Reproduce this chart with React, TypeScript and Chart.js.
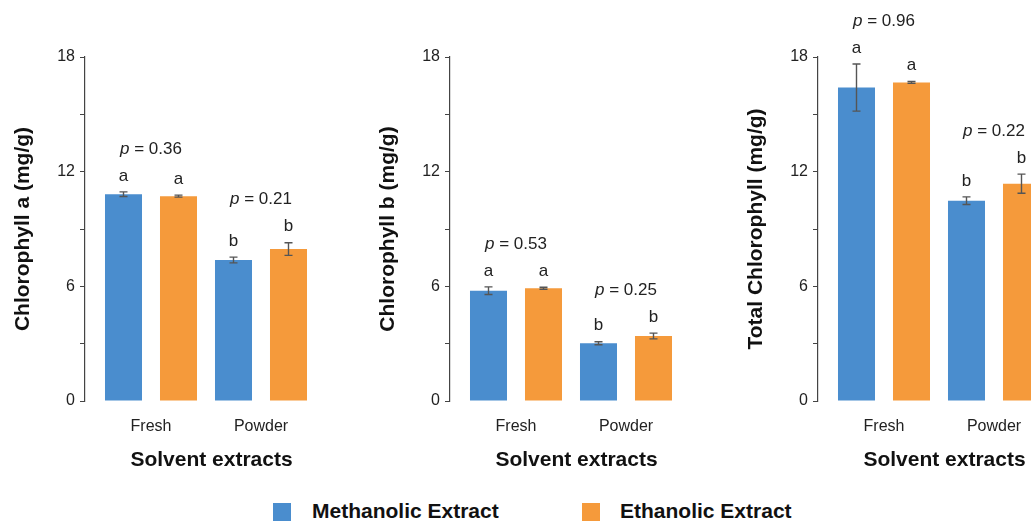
import { useEffect, useRef } from "react";
import { Chart, registerables } from "chart.js";

Chart.register(...registerables);

const FONT = "'Liberation Sans', Arial, sans-serif";

const categories = ["Fresh", "Powder"];
const seriesNames = ["Methanolic Extract", "Ethanolic Extract"];
const seriesColors = ["#4a8dce", "#f59a3b"];
const groupLetters = ["a", "b"];

// chlorophyll a
const chlAMethanolic = [10.82, 7.38];
const chlAEthanolic = [10.72, 7.95];
const chlAMethanolicErr = [0.12, 0.15];
const chlAEthanolicErr = [0.05, 0.33];
const chlAPValues = ["0.36", "0.21"];

// chlorophyll b
const chlBMethanolic = [5.77, 3.02];
const chlBEthanolic = [5.9, 3.4];
const chlBMethanolicErr = [0.2, 0.08];
const chlBEthanolicErr = [0.05, 0.15];
const chlBPValues = ["0.53", "0.25"];

// total chlorophyll
const totalMethanolic = [16.4, 10.48];
const totalEthanolic = [16.67, 11.37];
const totalMethanolicErr = [1.23, 0.2];
const totalEthanolicErr = [0.05, 0.5];
const totalPValues = ["0.96", "0.22"];

const makeAnnotations = (errors: number[][], pValues: string[]) => ({
  id: "annotations",
  afterDatasetsDraw(chart: any) {
    const { ctx } = chart;
    const y = chart.scales.y;
    ctx.save();
    const groupTops: number[] = categories.map(() => Infinity);
    const groupX: number[][] = categories.map(() => []);
    chart.data.datasets.forEach((ds: any, i: number) => {
      const meta = chart.getDatasetMeta(i);
      meta.data.forEach((bar: any, j: number) => {
        const v = ds.data[j].y;
        const e = errors[i][j];
        const top = y.getPixelForValue(v + e);
        const bot = y.getPixelForValue(v - e);
        ctx.strokeStyle = "#555";
        ctx.lineWidth = 1.4;
        ctx.beginPath();
        ctx.moveTo(bar.x, top);
        ctx.lineTo(bar.x, bot);
        ctx.moveTo(bar.x - 4, top);
        ctx.lineTo(bar.x + 4, top);
        ctx.moveTo(bar.x - 4, bot);
        ctx.lineTo(bar.x + 4, bot);
        ctx.stroke();
        ctx.fillStyle = "#222";
        ctx.font = `17px ${FONT}`;
        ctx.textAlign = "center";
        ctx.textBaseline = "middle";
        ctx.fillText(groupLetters[j], bar.x, top - 16);
        groupTops[j] = Math.min(groupTops[j], top);
        groupX[j].push(bar.x);
      });
    });
    categories.forEach((_c, j) => {
      const cx = groupX[j].reduce((a, b) => a + b, 0) / groupX[j].length;
      const cy = groupTops[j] - 43;
      const rest = " = " + pValues[j];
      ctx.font = `italic 17px ${FONT}`;
      const wp = ctx.measureText("p").width;
      ctx.font = `17px ${FONT}`;
      const wr = ctx.measureText(rest).width;
      const x0 = cx - (wp + wr) / 2;
      ctx.textAlign = "left";
      ctx.textBaseline = "middle";
      ctx.fillStyle = "#222";
      ctx.font = `italic 17px ${FONT}`;
      ctx.fillText("p", x0, cy);
      ctx.font = `17px ${FONT}`;
      ctx.fillText(rest, x0 + wp, cy);
    });
    ctx.restore();
  },
});

const Panel = ({
  left,
  yTitle,
  series,
  errors,
  pValues,
}: {
  left: number;
  yTitle: string;
  series: number[][];
  errors: number[][];
  pValues: string[];
}) => {
  const rootRef = useRef<null | HTMLCanvasElement>(null);

  useEffect(() => {
    if (!rootRef.current) return;

    const data = {
      datasets: series.map((values, i) => ({
        label: seriesNames[i],
        data: values.map((v, j) => ({ x: j, y: v })),
        backgroundColor: seriesColors[i],
        barPercentage: 0.673,
        categoryPercentage: 1,
      })),
    };

    const c = new Chart(rootRef.current, {
      type: "bar",
      data,
      options: {
        animation: false,
        responsive: false,
        layout: { padding: { top: 57, right: 22, bottom: 0, left: 0 } },
        plugins: { legend: { display: false }, tooltip: { enabled: false } },
        scales: {
          x: {
            type: "linear",
            min: -0.6,
            max: 1.7,
            offset: false,
            grid: { display: false, drawTicks: false },
            border: { display: false },
            afterBuildTicks: (scale: any) => {
              scale.ticks = categories.map((_c, i) => ({ value: i }));
            },
            afterFit: (scale: any) => {
              scale.height = 80;
            },
            ticks: {
              padding: 16,
              color: "#222",
              font: { size: 16, family: FONT },
              callback: (v: any) => categories[v],
            },
            title: {
              display: true,
              text: "Solvent extracts",
              color: "#111",
              font: { size: 21, weight: "bold", family: FONT, lineHeight: 1.2 },
              padding: { top: 0, bottom: 8 },
            },
          },
          y: {
            min: 0,
            max: 18,
            afterFit: (scale: any) => {
              scale.width = 85;
            },
            grid: {
              display: true,
              drawOnChartArea: false,
              drawTicks: true,
              tickLength: 5,
              color: "#444",
            },
            border: { display: true, color: "#444", width: 1.2 },
            ticks: {
              stepSize: 3,
              padding: 5,
              color: "#222",
              font: { size: 16, family: FONT },
              callback: (v: any) => (v % 6 === 0 ? String(v) : ""),
            },
            title: {
              display: true,
              text: yTitle,
              color: "#111",
              font: { size: 21, weight: "bold", family: FONT, lineHeight: 1.2 },
              padding: { top: 11, bottom: 0 },
            },
          },
        },
      } as any,
      plugins: [makeAnnotations(errors, pValues)],
    });

    return () => c.destroy();
  }, []);

  return (
    <canvas
      ref={rootRef}
      width={360}
      height={481}
      style={{ position: "absolute", left, top: 0, width: 360, height: 481 }}
    ></canvas>
  );
};

const legendItems = [
  { box: 273, text: 312 },
  { box: 582, text: 620 },
];

export default function App() {
  return (
    <div
      style={{
        position: "fixed",
        left: 0,
        top: 0,
        width: 1031,
        height: 521,
        overflow: "hidden",
        background: "#fff",
      }}
    >
      <Panel
        left={0}
        yTitle="Chlorophyll a (mg/g)"
        series={[chlAMethanolic, chlAEthanolic]}
        errors={[chlAMethanolicErr, chlAEthanolicErr]}
        pValues={chlAPValues}
      />
      <Panel
        left={365}
        yTitle="Chlorophyll b (mg/g)"
        series={[chlBMethanolic, chlBEthanolic]}
        errors={[chlBMethanolicErr, chlBEthanolicErr]}
        pValues={chlBPValues}
      />
      <Panel
        left={733}
        yTitle="Total Chlorophyll (mg/g)"
        series={[totalMethanolic, totalEthanolic]}
        errors={[totalMethanolicErr, totalEthanolicErr]}
        pValues={totalPValues}
      />
      {seriesNames.map((name, i) => (
        <div key={name}>
          <div
            style={{
              position: "absolute",
              left: legendItems[i].box,
              top: 503,
              width: 18,
              height: 18,
              background: seriesColors[i],
            }}
          />
          <div
            style={{
              position: "absolute",
              left: legendItems[i].text,
              top: 500,
              fontFamily: FONT,
              fontWeight: "bold",
              fontSize: 21,
              lineHeight: "21px",
              color: "#111",
              whiteSpace: "nowrap",
            }}
          >
            {name}
          </div>
        </div>
      ))}
    </div>
  );
}
